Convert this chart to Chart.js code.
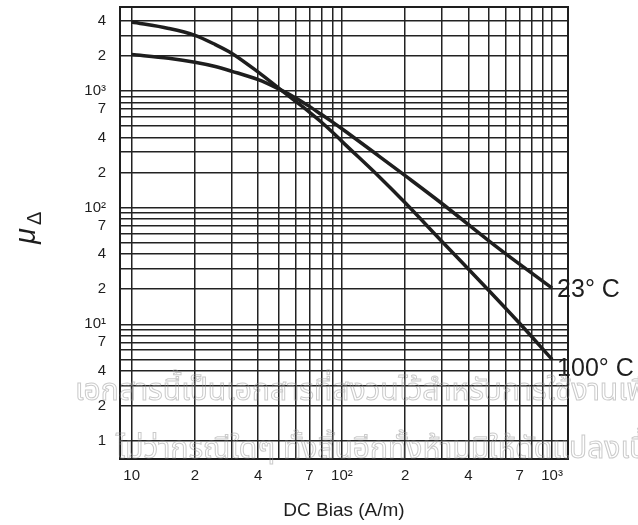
<!DOCTYPE html>
<html>
<head>
<meta charset="utf-8">
<script src="https://cdn.jsdelivr.net/npm/chart.js@4/dist/chart.umd.min.js"></script>
<style>
  html, body { margin: 0; padding: 0; background: #fff; }
  #wrap { position: relative; width: 638px; height: 525px; }
</style>
</head>
<body>
<div id="wrap"><canvas id="chart" width="638" height="525"></canvas></div>
<script>
// DC bias field (A/m)
const biasField = [10, 15, 20, 25, 30, 40, 50, 60, 70, 80, 90, 100, 150, 200, 300, 500, 700, 1000];
// Incremental permeability at 23 °C
const mu23C = [2056, 1905, 1762, 1620, 1475, 1250, 1042, 877, 738, 628, 544, 475, 277, 188, 108, 52, 32.8, 20.4];
// Incremental permeability at 100 °C
const mu100C = [3900, 3440, 3000, 2500, 2100, 1450, 1060, 820, 660, 540, 445, 370, 185, 110, 51, 19.5, 10.2, 5];

const seriesNames = ['23° C', '100° C'];

// Grid positions and their printed labels
const xGridValues = [10, 20, 30, 40, 50, 60, 70, 80, 90, 100, 200, 300, 400, 500, 600, 700, 800, 900, 1000];
const xTickLabels = { 10: '10', 20: '2', 40: '4', 70: '7', 100: '10²', 200: '2', 400: '4', 700: '7', 1000: '10³' };
const yGridValues = [1, 2, 3, 4, 5, 6, 7, 8, 9, 10, 20, 30, 40, 50, 60, 70, 80, 90,
                     100, 200, 300, 400, 500, 600, 700, 800, 900, 1000, 2000, 3000, 4000];
const yTickLabels = { 1: '1', 2: '2', 4: '4', 7: '7', 10: '10¹', 20: '2', 40: '4', 70: '7',
                      100: '10²', 200: '2', 400: '4', 700: '7', 1000: '10³', 2000: '2', 4000: '4' };

const xAxisTitle = 'DC Bias (A/m)';
const watermarkLines = [
  'เอกสารนี้เป็นเอกสารที่สงวนไว้สำหรับการใช้งานเพื่อ',
  'ไม่ว่ากรณีใดๆ ทั้งสิ้นอีกทั้งห้ามมิให้ดัดแปลงเนื้อหา'
];

const INK = '#1e1e1e';
const FONT = "'Liberation Sans', Arial, Helvetica, sans-serif";

const toPoints = (ys) => biasField.map((x, i) => ({ x, y: ys[i] }));

// Keep the plot area exactly where the axes put it (no extra label overhang)
const noOverhang = (s) => {
  s.paddingTop = 0; s.paddingBottom = 0; s.paddingLeft = 0; s.paddingRight = 0;
};

// Outer frame around the plot area
const framePlugin = {
  id: 'frame',
  beforeDatasetsDraw(chart) {
    const { ctx, chartArea: a } = chart;
    ctx.save();
    ctx.strokeStyle = INK;
    ctx.lineWidth = 2;
    ctx.strokeRect(a.left, a.top, a.right - a.left, a.bottom - a.top);
    ctx.restore();
  }
};

// Series names written next to the end of each curve
const endLabelPlugin = {
  id: 'endLabels',
  afterDatasetsDraw(chart) {
    const { ctx } = chart;
    const dy = [2, 10];
    ctx.save();
    ctx.fillStyle = INK;
    ctx.font = `25px ${FONT}`;
    ctx.textAlign = 'left';
    ctx.textBaseline = 'middle';
    chart.data.datasets.forEach((ds, i) => {
      const meta = chart.getDatasetMeta(i);
      const last = meta.data[meta.data.length - 1];
      ctx.fillText(seriesNames[i], last.x + 5, last.y + dy[i]);
    });
    ctx.restore();
  }
};

// μΔ label on the vertical axis, with Δ as a subscript
const yTitlePlugin = {
  id: 'yTitle',
  afterDraw(chart) {
    const { ctx } = chart;
    ctx.save();
    ctx.translate(35, 244);
    ctx.rotate(-Math.PI / 2);
    ctx.fillStyle = INK;
    ctx.textAlign = 'left';
    ctx.textBaseline = 'alphabetic';
    ctx.font = `italic 29px ${FONT}`;
    ctx.fillText('μ', 0, 0);
    const w = ctx.measureText('μ').width;
    ctx.font = `20px ${FONT}`;
    ctx.fillText('Δ', w + 3, 6);
    ctx.restore();
  }
};

// Faint outlined notice across the lower part of the sheet
const watermarkPlugin = {
  id: 'watermark',
  afterDraw(chart) {
    const { ctx } = chart;
    ctx.save();
    ctx.font = `30px 'Noto Sans Thai', 'Noto Sans', 'DejaVu Sans', sans-serif`;
    ctx.textAlign = 'left';
    ctx.textBaseline = 'alphabetic';
    ctx.strokeStyle = 'rgba(150,150,150,0.5)';
    ctx.lineWidth = 1;
    ctx.strokeText(watermarkLines[0], 75, 400);
    ctx.strokeText(watermarkLines[1], 116, 458);
    ctx.restore();
  }
};

new Chart(document.getElementById('chart'), {
  type: 'line',
  data: {
    datasets: [
      { label: seriesNames[0], data: toPoints(mu23C) },
      { label: seriesNames[1], data: toPoints(mu100C) }
    ]
  },
  options: {
    responsive: false,
    animation: false,
    events: [],
    layout: { padding: { left: 0, right: 70, top: 7, bottom: 0 } },
    elements: {
      line: { borderColor: INK, borderWidth: 3.5, cubicInterpolationMode: 'monotone', fill: false },
      point: { radius: 0 }
    },
    plugins: { legend: { display: false }, tooltip: { enabled: false } },
    scales: {
      x: {
        type: 'logarithmic',
        min: 8.8,
        max: 1190,
        afterBuildTicks: (s) => { s.ticks = xGridValues.map(v => ({ value: v })); },
        afterFit: (s) => { s.height = 66; noOverhang(s); },
        ticks: {
          autoSkip: false, maxRotation: 0, padding: 8, color: INK,
          font: { family: FONT, size: 15 },
          callback: (v) => xTickLabels[v] ?? ''
        },
        grid: { color: '#222222', lineWidth: 1.5, drawTicks: false },
        border: { display: false },
        title: { display: true, text: xAxisTitle, color: INK, font: { family: FONT, size: 19 }, padding: { top: 0, bottom: 3 } }
      },
      y: {
        type: 'logarithmic',
        min: 0.735,
        max: 5250,
        afterBuildTicks: (s) => { s.ticks = yGridValues.map(v => ({ value: v })); },
        afterFit: (s) => { s.width = 120; noOverhang(s); },
        ticks: {
          autoSkip: false, padding: 14, color: INK,
          font: { family: FONT, size: 15 },
          callback: (v) => yTickLabels[v] ?? ''
        },
        grid: { color: '#222222', lineWidth: 1.5, drawTicks: false },
        border: { display: false }
      }
    }
  },
  plugins: [framePlugin, endLabelPlugin, yTitlePlugin, watermarkPlugin]
});
</script>
</body>
</html>
